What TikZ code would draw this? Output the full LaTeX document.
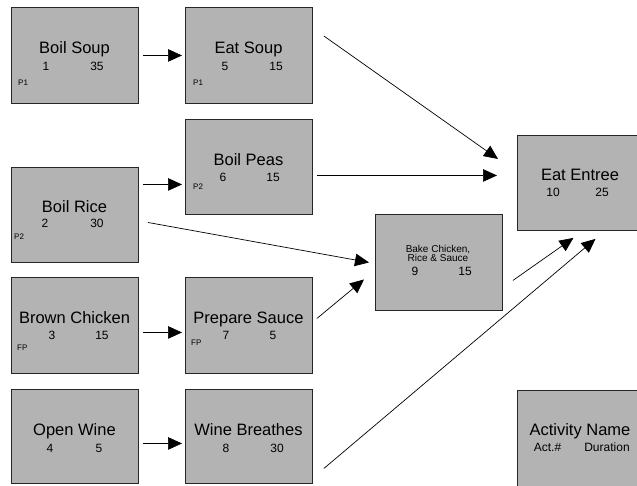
\documentclass[tikz,border=0pt]{standalone}
\usepackage{fontspec}
\setmainfont{Liberation Sans}
\usetikzlibrary{arrows.meta,calc}
\definecolor{boxgray}{RGB}{179,179,179}
\tikzset{
 box/.style={draw=black!85, line width=0.9pt, fill=boxgray, minimum width=127pt, minimum height=96pt, anchor=north west, inner sep=0pt},
 ttl/.style={anchor=base, inner sep=0pt, font=\fontsize{16.5}{19}\selectfont},
 num/.style={anchor=base, inner sep=0pt, font=\fontsize{12}{14}\selectfont},
 tag/.style={anchor=base west, inner sep=0pt, font=\fontsize{8}{9}\selectfont},
 sml/.style={anchor=base, inner sep=0pt, font=\fontsize{10}{10}\selectfont},
 arr/.style={line width=0.7pt, -{Triangle[length=14pt,width=12.5pt]}},
}
\begin{document}
\begin{tikzpicture}[x=1pt,y=-1pt]
\path[use as bounding box, clip] (0,0) rectangle (637,485);
\fill[white] (0,0) rectangle (637,485);
% boxes
\node[box] (bsoup) at (11,7) {};
\node[box] (esoup) at (185,7) {};
\node[box, minimum height=95pt] (bpeas) at (185,119) {};
\node[box, minimum height=95pt] (brice) at (11,167) {};
\node[box] (bchick) at (11,277) {};
\node[box] (psauce) at (185,277) {};
\node[box, minimum height=94pt] (owine) at (11,389) {};
\node[box, minimum height=94pt] (wbreath) at (185,389) {};
\node[box] (bake) at (375,214) {};
\node[box, minimum height=95pt] (entree) at (517,135) {};
\node[box, minimum height=110pt] (activity) at (517,390) {};
% Boil Soup
\node[ttl] (t1) at (74.5,53) {Boil Soup};
\node[num] (a1) at (46,70) {1};
\node[num] (d1) at (97,70) {35};
\node[tag] (p1) at (18,85) {P1};
% Eat Soup
\node[ttl] (t5) at (248.5,53) {Eat Soup};
\node[num] (a5) at (225,70) {5};
\node[num] (d5) at (276,70) {15};
\node[tag] (p5) at (193,85) {P1};
% Boil Peas
\node[ttl] (t6) at (248.5,165) {Boil Peas};
\node[num] (a6) at (223,181) {6};
\node[num] (d6) at (273,181) {15};
\node[tag] (p6) at (193,189) {P2};
% Boil Rice
\node[ttl] (t2) at (74.5,212) {Boil Rice};
\node[num] (a2) at (45,227) {2};
\node[num] (d2) at (97,227) {30};
\node[tag] (p2) at (14,239) {P2};
% Brown Chicken
\node[ttl] (t3) at (74.5,323) {Brown Chicken};
\node[num] (a3) at (52,339) {3};
\node[num] (d3) at (102,339) {15};
\node[tag] (p3) at (17,350) {FP};
% Prepare Sauce
\node[ttl] (t7) at (248.5,323) {Prepare Sauce};
\node[num] (a7) at (226,339) {7};
\node[num] (d7) at (273,339) {5};
\node[tag] (p7) at (191,345) {FP};
% Open Wine
\node[ttl] (t4) at (74.5,435) {Open Wine};
\node[num] (a4) at (50,452) {4};
\node[num] (d4) at (99,452) {5};
% Wine Breathes
\node[ttl] (t8) at (248.5,435) {Wine Breathes};
\node[num] (a8) at (226,452) {8};
\node[num] (d8) at (277,452) {30};
% Bake Chicken
\node[sml] (t9a) at (438,252) {Bake Chicken,};
\node[sml] (t9b) at (438,261.5) {Rice \& Sauce};
\node[num] (a9) at (415,275) {9};
\node[num] (d9) at (465,275) {15};
% Eat Entree
\node[ttl] (t10) at (580,180) {Eat Entree};
\node[num] (a10) at (553,196) {10};
\node[num] (d10) at (602,196) {25};
% Legend
\node[ttl] (tl) at (580,435) {Activity Name};
\node[num] (al) at (547.5,451) {Act.\#};
\node[num] (dl) at (607,451) {Duration};
% arrows
\draw[arr] ([xshift=4pt]bsoup.east) -- ([xshift=-3pt]esoup.west);
\draw[arr] ([xshift=11pt,yshift=-29pt]esoup.north east) -- ([xshift=-19pt,yshift=24pt]entree.west);
\draw[arr] ([xshift=4pt,yshift=-8.5pt]bpeas.east) -- ([xshift=-20pt,yshift=-8.5pt]bpeas.east -| entree.west);
\draw[arr] ([xshift=4pt,yshift=30.5pt]brice.east) -- ([xshift=-3pt,yshift=30.5pt]brice.east -| bpeas.west);
\draw[arr] ([xshift=9pt,yshift=-7.5pt]brice.east) -- ([xshift=-6pt]bake.west);
\draw[arr] ([xshift=4pt,yshift=-7pt]bchick.east) -- ([xshift=-3pt,yshift=-7pt]bchick.east -| psauce.west);
\draw[arr] ([xshift=4pt,yshift=-7pt]owine.east) -- ([xshift=-3pt,yshift=-7pt]owine.east -| wbreath.west);
\draw[arr] ([xshift=4pt,yshift=7pt]psauce.east) -- ([xshift=-11pt,yshift=-17pt]bake.west);
\draw[arr] ([xshift=10pt,yshift=-18pt]bake.east) -- ([xshift=-7.5pt,yshift=-7pt]entree.south);
\draw[arr] ([xshift=11pt,yshift=-32pt]wbreath.east) -- ([xshift=14.5pt,yshift=-8pt]entree.south);
\end{tikzpicture}
\end{document}
